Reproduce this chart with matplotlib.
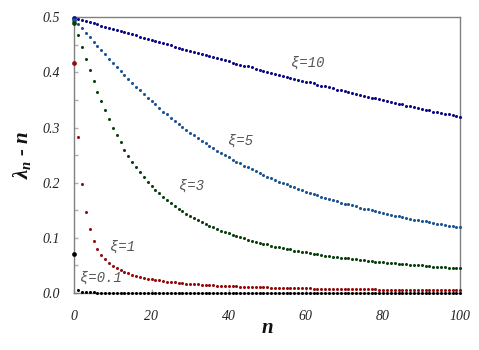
import numpy as np
import matplotlib
matplotlib.use('Agg')
import matplotlib.pyplot as plt
from matplotlib.ticker import MultipleLocator, FormatStrFormatter

plt.rcParams['mathtext.fontset'] = 'custom'
plt.rcParams['mathtext.it'] = 'Liberation Serif:italic:bold'
plt.rcParams['mathtext.rm'] = 'Liberation Serif:italic:bold'
plt.rcParams['mathtext.bf'] = 'Liberation Serif:italic:bold'

# ---------------- data ----------------
n = np.arange(0, 101)

xi10 = [0.499, 0.497, 0.495, 0.493, 0.491, 0.489, 0.487, 0.485, 0.483, 0.481,
        0.479, 0.477, 0.475, 0.473, 0.471, 0.469, 0.467, 0.465, 0.463, 0.461,
        0.459, 0.457, 0.455, 0.453, 0.451, 0.449, 0.447, 0.445, 0.443, 0.441,
        0.439, 0.437, 0.435, 0.433, 0.431, 0.429, 0.428, 0.426, 0.424, 0.422,
        0.420, 0.418, 0.416, 0.414, 0.412, 0.411, 0.409, 0.407, 0.405, 0.403,
        0.401, 0.399, 0.398, 0.396, 0.394, 0.392, 0.390, 0.389, 0.387, 0.385,
        0.383, 0.382, 0.380, 0.378, 0.376, 0.375, 0.373, 0.371, 0.369, 0.368,
        0.366, 0.364, 0.363, 0.361, 0.359, 0.358, 0.356, 0.354, 0.353, 0.351,
        0.350, 0.348, 0.346, 0.345, 0.343, 0.342, 0.340, 0.339, 0.337, 0.336,
        0.334, 0.332, 0.331, 0.329, 0.328, 0.326, 0.325, 0.324, 0.322, 0.321,
        0.319]

xi5 = [0.496, 0.488, 0.480, 0.472, 0.464, 0.456, 0.448, 0.440, 0.433, 0.425,
       0.418, 0.410, 0.403, 0.395, 0.388, 0.381, 0.374, 0.368, 0.361, 0.354,
       0.348, 0.342, 0.335, 0.329, 0.324, 0.318, 0.312, 0.307, 0.301, 0.296,
       0.291, 0.286, 0.281, 0.276, 0.272, 0.267, 0.263, 0.258, 0.254, 0.250,
       0.246, 0.242, 0.238, 0.235, 0.231, 0.228, 0.224, 0.221, 0.218, 0.214,
       0.211, 0.208, 0.205, 0.202, 0.200, 0.197, 0.194, 0.192, 0.189, 0.186,
       0.184, 0.182, 0.179, 0.177, 0.175, 0.173, 0.171, 0.168, 0.166, 0.164,
       0.162, 0.161, 0.159, 0.157, 0.155, 0.153, 0.152, 0.150, 0.148, 0.147,
       0.145, 0.143, 0.142, 0.140, 0.139, 0.138, 0.136, 0.135, 0.133, 0.132,
       0.131, 0.130, 0.128, 0.127, 0.126, 0.125, 0.123, 0.122, 0.121, 0.120,
       0.119]

xi3 = [0.489, 0.467, 0.446, 0.424, 0.404, 0.384, 0.365, 0.348, 0.331, 0.315,
       0.300, 0.286, 0.273, 0.260, 0.249, 0.238, 0.228, 0.219, 0.210, 0.202,
       0.194, 0.187, 0.181, 0.174, 0.168, 0.163, 0.158, 0.153, 0.148, 0.144,
       0.140, 0.136, 0.132, 0.128, 0.125, 0.122, 0.119, 0.116, 0.113, 0.110,
       0.108, 0.105, 0.103, 0.101, 0.099, 0.097, 0.095, 0.093, 0.091, 0.089,
       0.088, 0.086, 0.084, 0.083, 0.081, 0.080, 0.079, 0.077, 0.076, 0.075,
       0.074, 0.072, 0.071, 0.070, 0.069, 0.068, 0.067, 0.066, 0.065, 0.064,
       0.063, 0.063, 0.062, 0.061, 0.060, 0.059, 0.058, 0.058, 0.057, 0.056,
       0.056, 0.055, 0.054, 0.054, 0.053, 0.052, 0.052, 0.051, 0.051, 0.050,
       0.050, 0.049, 0.049, 0.048, 0.048, 0.047, 0.047, 0.046, 0.046, 0.045,
       0.045]

xi1 = [0.4174, 0.2822, 0.1975, 0.1473, 0.1160, 0.0952, 0.0804, 0.0696, 0.0612, 0.0546,
       0.0493, 0.0450, 0.0413, 0.0381, 0.0355, 0.0331, 0.0311, 0.0293, 0.0277, 0.0262,
       0.0249, 0.0237, 0.0227, 0.0217, 0.0208, 0.0200, 0.0192, 0.0185, 0.0178, 0.0172,
       0.0166, 0.0161, 0.0156, 0.0151, 0.0147, 0.0143, 0.0139, 0.0135, 0.0131, 0.0128,
       0.0125, 0.0122, 0.0119, 0.0116, 0.0114, 0.0111, 0.0109, 0.0106, 0.0104, 0.0102,
       0.0100, 0.0098, 0.0096, 0.0094, 0.0093, 0.0091, 0.0089, 0.0088, 0.0086, 0.0085,
       0.0083, 0.0082, 0.0081, 0.0079, 0.0078, 0.0077, 0.0076, 0.0075, 0.0074, 0.0072,
       0.0071, 0.0070, 0.0069, 0.0068, 0.0068, 0.0067, 0.0066, 0.0065, 0.0064, 0.0063,
       0.0062, 0.0062, 0.0061, 0.0060, 0.0060, 0.0059, 0.0058, 0.0057, 0.0057, 0.0056,
       0.0056, 0.0055, 0.0054, 0.0054, 0.0053, 0.0053, 0.0052, 0.0052, 0.0051, 0.0051,
       0.0050]

xi01 = [0.0701, 0.0050, 0.0025, 0.0017, 0.0013, 0.0010, 0.0008, 0.0007, 0.0006, 0.0006,
        0.0005, 0.0005, 0.0004, 0.0004, 0.0004, 0.0003, 0.0003, 0.0003, 0.0003, 0.0003,
        0.0003, 0.0002, 0.0002, 0.0002, 0.0002, 0.0002, 0.0002, 0.0002, 0.0002, 0.0002,
        0.0002, 0.0002, 0.0002, 0.0002, 0.0001, 0.0001, 0.0001, 0.0001, 0.0001, 0.0001,
        0.0001, 0.0001, 0.0001, 0.0001, 0.0001, 0.0001, 0.0001, 0.0001, 0.0001, 0.0001,
        0.0001, 0.0001, 0.0001, 0.0001, 0.0001, 0.0001, 0.0001, 0.0001, 0.0001, 0.0001,
        0.0001, 0.0001, 0.0001, 0.0001, 0.0001, 0.0001, 0.0001, 0.0001, 0.0001, 0.0001,
        0.0001, 0.0001, 0.0001, 0.0001, 0.0001, 0.0001, 0.0001, 0.0001, 0.0001, 0.0001,
        0.0001, 0.0001, 0.0001, 0.0001, 0.0001, 0.0001, 0.0001, 0.0001, 0.0001, 0.0001,
        0.0001, 0.0001, 0.0001, 0.0001, 0.0001, 0.0001, 0.0001, 0.0001, 0.0001, 0.0001,
        0.0001]

series_labels = ['ξ=10', 'ξ=5', 'ξ=3', 'ξ=1', 'ξ=0.1']
series_colors = ['#0a0a88', '#1b5291', '#07400d', '#960a0a', '#000000']

xticks = [0, 20, 40, 60, 80, 100]
yticks = [0.0, 0.1, 0.2, 0.3, 0.4, 0.5]

# ---------------- figure ----------------
W, H = 479, 350
fig = plt.figure(figsize=(W / 100, H / 100), dpi=100)
L, R, T, B = 74.3, 460.3, 17.3, 293.0
ax = fig.add_axes([L / W, 1 - B / H, (R - L) / W, (B - T) / H])

all_series = [xi10, xi5, xi3, xi1, xi01]
for vals, col in zip(all_series, series_colors):
    v = np.asarray(vals)
    ax.plot(n[1:], v[1:], 'o', ms=2.2, color=col, mec='none', clip_on=False, zorder=3)
    ax.plot(n[:1], v[:1], 'o', ms=3.4, color=col, mec='none', clip_on=False, zorder=4)

ax.set_xlim(0, 100)
ax.set_ylim(0, 0.5)
ax.set_xticks(xticks)
ax.set_yticks(yticks)
ax.yaxis.set_minor_locator(MultipleLocator(0.05))
ax.xaxis.set_major_formatter(FormatStrFormatter('%d'))
ax.yaxis.set_major_formatter(FormatStrFormatter('%.1f'))

for s in ax.spines.values():
    s.set_color('#808080')
    s.set_linewidth(1.0)

ax.tick_params(axis='both', which='both', direction='in', length=3, width=1,
               color='#b0b0b0', labelsize=10, labelcolor='#222222')
ax.tick_params(axis='x', pad=12)
ax.tick_params(axis='y', pad=10)
ax.tick_params(top=False, right=False)
for lbl in ax.get_xticklabels() + ax.get_yticklabels():
    lbl.set_fontfamily('Liberation Serif')
    lbl.set_fontstyle('italic')

# axis labels
ax.text((22 - L) / (R - L), (B - 155) / (B - T), r'$\lambda_n$ - $n$', rotation=90,
        ha='center', va='center', transform=ax.transAxes, fontsize=15,
        family='Liberation Serif', style='italic', weight='bold', color='#111111')
ax.text((267 - L) / (R - L), (B - 328) / (B - T), 'n',
        ha='center', va='center', transform=ax.transAxes, fontsize=15,
        family='Liberation Serif', style='italic', weight='bold', color='#111111')

# curve annotations
ann_pos = [(60.5, 0.417), (43.2, 0.276), (30.5, 0.194), (12.6, 0.084), (6.9, 0.027)]
for txt, (x, y) in zip(series_labels, ann_pos):
    ax.text(x, y, txt, ha='center', va='center', fontsize=10, color='#555555',
            family=['Liberation Mono', 'DejaVu Sans Mono'], style='italic')

fig.savefig('out.png', dpi=100)
